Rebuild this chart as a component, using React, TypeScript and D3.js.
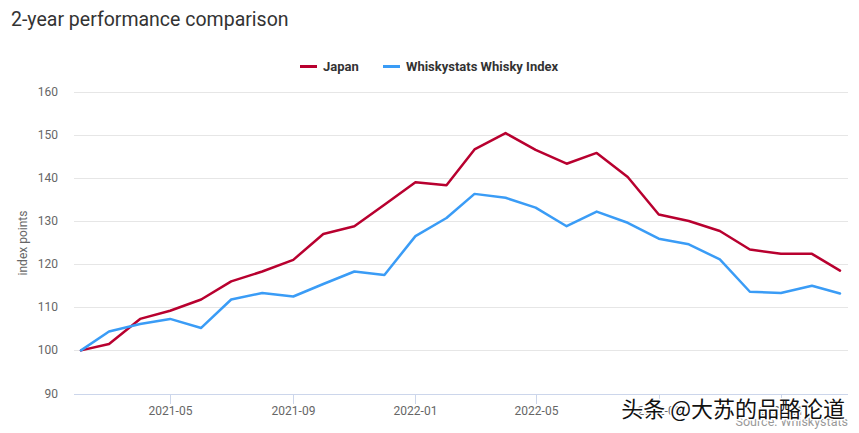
import React from "react";
import * as d3 from "d3";

const months: string[] = [
  "2021-02", "2021-03", "2021-04", "2021-05", "2021-06", "2021-07", "2021-08", "2021-09",
  "2021-10", "2021-11", "2021-12", "2022-01", "2022-02", "2022-03", "2022-04", "2022-05",
  "2022-06", "2022-07", "2022-08", "2022-09", "2022-10", "2022-11", "2022-12", "2023-01",
  "2023-02", "2023-03",
];
const japan: number[] = [
  100, 101.5, 107.3, 109.2, 111.8, 116.0, 118.3, 121.0, 127.0, 128.8, 133.8, 139.0, 138.3,
  146.6, 150.4, 146.5, 143.3, 145.8, 140.2, 131.5, 130.0, 127.7, 123.4, 122.4, 122.4, 118.5,
];
const whisky: number[] = [
  100, 104.4, 106.1, 107.3, 105.2, 111.8, 113.3, 112.5, 115.4, 118.3, 117.5, 126.5, 130.7,
  136.3, 135.4, 133.1, 128.8, 132.2, 129.6, 125.9, 124.6, 121.1, 113.6, 113.3, 115.0, 113.2,
];
const yTicks: number[] = [90, 100, 110, 120, 130, 140, 150, 160];
const xTickLabels: string[] = ["2021-05", "2021-09", "2022-01", "2022-05", "2022-09", "2023-01"];
const seriesNames: string[] = ["Japan", "Whiskystats Whisky Index"];
const seriesColors: string[] = ["#b8002f", "#3a9cf6"];

const W = 859;
const H = 433;
const FONT = "Roboto, 'Noto Sans', sans-serif";

export default function App() {
  const parse = d3.utcParse("%Y-%m");
  const dates = months.map((m) => parse(m) as Date);
  const x = d3
    .scaleUtc()
    .domain([dates[0], dates[dates.length - 1]])
    .range([81, 840]);
  const y = d3.scaleLinear().domain([90, 160]).range([393.5, 91.7]);
  const plotLeft = 74;
  const plotRight = 848;

  const line = d3
    .line<number>()
    .x((_, i) => x(dates[i]))
    .y((v) => y(v));

  const series = [japan, whisky];

  return (
    <svg
      width={W}
      height={H}
      style={{ position: "absolute", left: 0, top: 0, background: "#fff" }}
      fontFamily={FONT}
    >
      <rect x={0} y={0} width={W} height={H} fill="#fff" />
      <text x={11} y={26} fontSize={19.5} fill="#333333">
        2-year performance comparison
      </text>

      {/* legend */}
      <g>
        <line x1={300} x2={317} y1={66.5} y2={66.5} stroke={seriesColors[0]} strokeWidth={3} />
        <text x={323} y={71} fontSize={13} fontWeight="bold" fill="#333333">
          {seriesNames[0]}
        </text>
        <line x1={383} x2={400} y1={66.5} y2={66.5} stroke={seriesColors[1]} strokeWidth={3} />
        <text x={406} y={71} fontSize={13} fontWeight="bold" fill="#333333">
          {seriesNames[1]}
        </text>
      </g>

      {/* grid */}
      {yTicks.map((t) =>
        t === 90 ? null : (
          <line
            key={t}
            x1={plotLeft}
            x2={plotRight}
            y1={Math.round(y(t)) + 0.5}
            y2={Math.round(y(t)) + 0.5}
            stroke="#e6e6e6"
            strokeWidth={1}
          />
        )
      )}
      {yTicks.map((t) => (
        <text
          key={"l" + t}
          x={58}
          y={y(t) + 4}
          fontSize={12}
          fill="#666666"
          textAnchor="end"
        >
          {t}
        </text>
      ))}
      <text
        transform={`translate(27,243) rotate(-90)`}
        fontSize={12}
        fill="#666666"
        textAnchor="middle"
      >
        index points
      </text>

      {/* x axis */}
      <line
        x1={plotLeft}
        x2={plotRight}
        y1={Math.round(y(90)) + 0.5}
        y2={Math.round(y(90)) + 0.5}
        stroke="#ccd6eb"
        strokeWidth={1}
      />
      {xTickLabels.map((l) => {
        const d = parse(l) as Date;
        const px = Math.round(x(d)) + 0.5;
        return (
          <g key={l}>
            <line x1={px} x2={px} y1={394} y2={404} stroke="#ccd6eb" strokeWidth={1} />
            <text x={px} y={415} fontSize={12} fill="#666666" textAnchor="middle">
              {l}
            </text>
          </g>
        );
      })}

      {/* lines */}
      {series.map((s, i) => (
        <path
          key={i}
          d={line(s) || ""}
          fill="none"
          stroke={seriesColors[i]}
          strokeWidth={2.5}
          strokeLinejoin="round"
          strokeLinecap="round"
        />
      ))}

      {/* credits */}
      <text x={848} y={426} fontSize={12.5} fill="#999999" textAnchor="end">
        Source: Whiskystats
      </text>
      {/* watermark */}
      <text
        x={845}
        y={417}
        fontSize={22}
        fill="#111111"
        textAnchor="end"
        stroke="#ffffff"
        strokeWidth={3}
        paintOrder="stroke"
        fontFamily="'Noto Sans CJK SC', sans-serif"
      >
        头条 @大苏的品酪论道
      </text>
    </svg>
  );
}
